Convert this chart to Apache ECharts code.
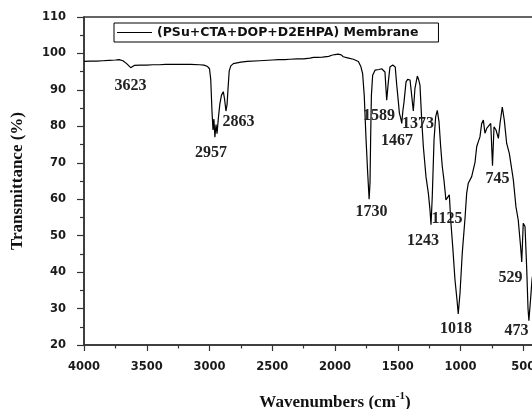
<!DOCTYPE html>
<html>
<head>
<meta charset="utf-8">
<title>FTIR spectrum</title>
<script src="https://cdn.jsdelivr.net/npm/echarts@6/dist/echarts.min.js"></script>
<style>
  html, body { margin: 0; padding: 0; background: #fff; }
  #chart { width: 532px; height: 409px; }
</style>
</head>
<body>
<div id="chart"></div>
<script>
// 光谱数据：波数 (cm-1) 和 透过率 (%)
const wavenumbers = [
  4000, 3950, 3900, 3850, 3800, 3750, 3720, 3690, 3660, 3628, 3600, 3550, 3500, 3450, 3400, 3350,
  3300, 3230, 3150, 3080, 3044, 3015, 3000, 2990, 2980, 2972, 2965, 2957, 2948, 2940, 2930, 2918,
  2905, 2890, 2880, 2869, 2860, 2853, 2843, 2830, 2810, 2750, 2700, 2600, 2500, 2450, 2400, 2360,
  2300, 2250, 2200, 2170, 2160, 2140, 2100, 2050, 2026, 2000, 1975, 1950, 1934, 1900, 1854, 1814,
  1795, 1780, 1767, 1753, 1740, 1728, 1721, 1716, 1710, 1700, 1681, 1650, 1628, 1615, 1602, 1595,
  1588, 1575, 1562, 1540, 1520, 1508, 1495, 1487, 1476, 1468, 1460, 1450, 1434, 1421, 1402, 1389,
  1376, 1363, 1344, 1335, 1323, 1309, 1296, 1275, 1256, 1243, 1235, 1225, 1211, 1198, 1185, 1171,
  1158, 1145, 1132, 1116, 1102, 1089, 1078, 1062, 1044, 1028, 1018, 1004, 986, 964, 951, 938,
  911, 884, 871, 858, 845, 831, 818, 805, 790, 778, 759, 745, 733, 717, 698, 685,
  667, 651, 632, 611, 579, 558, 540, 521, 512, 500, 486, 473, 462, 455, 440, 430, 400
];
const transmittance = [
  97.8, 97.9, 97.9, 98.0, 98.1, 98.2, 98.3, 98.0, 97.2, 96.1, 96.7, 96.8, 96.8, 96.9, 96.9, 97.0,
  97.0, 97.0, 97.0, 96.9, 96.8, 96.4, 95.8, 92.8, 84.0, 79.0, 82.0, 77.0, 80.5, 78.0, 82.0, 86.0,
  88.5, 89.5, 87.5, 84.2, 86.0, 90.0, 95.2, 96.6, 97.2, 97.6, 97.8, 98.0, 98.2, 98.3, 98.3, 98.4,
  98.5, 98.5, 98.7, 98.9, 99.3, 98.9, 99.0, 99.2, 99.5, 99.7, 99.8, 99.6, 99.1, 98.8, 98.4, 97.8,
  96.5, 94.5, 88.5, 76.7, 67.5, 60.0, 64.5, 76.7, 88.5, 94.0, 95.4, 95.6, 95.8, 96.3, 94.9, 91.0,
  87.2, 92.2, 96.3, 96.8, 96.3, 91.3, 86.7, 83.6, 82.2, 80.8, 84.0, 86.7, 92.2, 92.9, 92.7, 88.5,
  84.2, 90.4, 93.8, 93.0, 91.3, 81.7, 74.4, 66.2, 61.6, 57.0, 53.0, 60.7, 76.2, 82.6, 84.4, 81.2,
  74.4, 68.9, 65.3, 59.8, 60.2, 61.2, 54.3, 47.0, 37.9, 32.4, 28.5, 34.2, 45.2, 54.8, 61.6, 64.4,
  66.2, 70.2, 74.4, 75.8, 77.1, 80.8, 81.7, 78.1, 79.5, 79.9, 80.8, 69.2, 79.9, 79.0, 76.7, 80.8,
  85.3, 81.7, 75.3, 72.6, 65.3, 57.9, 54.3, 47.0, 42.8, 53.4, 52.5, 41.5, 30.0, 26.7, 33.3, 38.0, 45.0
];

// 峰值标注：文字 + 文字所在位置（数据坐标）
const peakNames = ['3623', '2957', '2863', '1730', '1589', '1467', '1373', '1243', '1125', '1018', '745', '529', '473'];
const peakLabelX = [3630, 2988, 2769, 1709, 1650, 1506, 1339, 1299, 1108, 1036, 705, 602, 554];
const peakLabelY = [91.0, 72.7, 81.2, 56.6, 82.9, 76.1, 80.6, 48.7, 54.7, 24.3, 65.7, 38.5, 23.8];

const seriesName = '(PSu+CTA+DOP+D2EHPA) Membrane';

const chartDom = document.getElementById('chart');
const myChart = echarts.init(chartDom, null, { renderer: 'canvas' });

const points = wavenumbers.map((w, i) => [w, transmittance[i]]);
const marks = peakNames.map((n, i) => ({ name: n, coord: [peakLabelX[i], peakLabelY[i]] }));

const axisColor = '#333';
// 刻度文字：不要千分位
const tickFont = {
  color: '#1a1a1a', fontFamily: 'DejaVu Sans', fontWeight: 'bold', fontSize: 11.5,
  formatter: v => String(v)
};

const option = {
  animation: false,
  backgroundColor: '#fff',
  grid: {
    left: 84, top: 17, right: -54, bottom: 64,
    outerBoundsMode: 'none',
    show: true, borderColor: axisColor, borderWidth: 1.5
  },
  legend: {
    left: 114, top: 23,
    padding: [3, 20, 3, 3],
    borderColor: '#000', borderWidth: 1,
    icon: 'rect',
    itemWidth: 35, itemHeight: 1.2,
    itemStyle: { color: '#000' },
    textStyle: { color: '#111', fontFamily: 'DejaVu Sans', fontWeight: 'bold', fontSize: 12.5 },
    data: [seriesName]
  },
  xAxis: {
    type: 'value',
    inverse: true,
    min: 0, max: 4000, interval: 500,
    name: '{a|Wavenumbers (cm}{s|-1}{a|)}',
    nameLocation: 'middle',
    nameGap: 46,
    nameTextStyle: {
      rich: {
        a: { fontFamily: 'Liberation Serif', fontWeight: 'bold', fontSize: 17, color: '#111' },
        s: { fontFamily: 'Liberation Serif', fontWeight: 'bold', fontSize: 11, color: '#111', verticalAlign: 'top', padding: [0, 0, 12, 0] }
      }
    },
    axisLine: { onZero: false, lineStyle: { color: axisColor, width: 1.5 } },
    axisTick: { length: 6, lineStyle: { color: axisColor, width: 1.2 } },
    minorTick: { show: true, splitNumber: 2, length: 3.5, lineStyle: { color: axisColor, width: 1.2 } },
    axisLabel: Object.assign({ margin: 16 }, tickFont),
    splitLine: { show: false }
  },
  yAxis: {
    type: 'value',
    min: 20, max: 110, interval: 10,
    name: 'Transmittance (%)',
    nameLocation: 'middle',
    nameGap: 58,
    nameTextStyle: { fontFamily: 'Liberation Serif', fontWeight: 'bold', fontSize: 17, color: '#111' },
    axisLine: { onZero: false, lineStyle: { color: axisColor, width: 1.5 } },
    axisTick: { length: 7, lineStyle: { color: axisColor, width: 1.2 } },
    minorTick: { show: true, splitNumber: 2, length: 4, lineStyle: { color: axisColor, width: 1.2 } },
    axisLabel: Object.assign({ margin: 18 }, tickFont),
    splitLine: { show: false }
  },
  series: [
    {
      name: seriesName,
      type: 'line',
      data: points,
      symbol: 'none',
      lineStyle: { color: '#000', width: 1.2 },
      itemStyle: { color: '#000' },
      markPoint: {
        symbol: 'circle',
        symbolSize: 0,
        label: {
          show: true,
          position: 'inside',
          formatter: '{b}',
          fontFamily: 'Liberation Serif',
          fontWeight: 'bold',
          fontSize: 16,
          color: '#222'
        },
        data: marks
      }
    }
  ]
};

option && myChart.setOption(option);
</script>
</body>
</html>
